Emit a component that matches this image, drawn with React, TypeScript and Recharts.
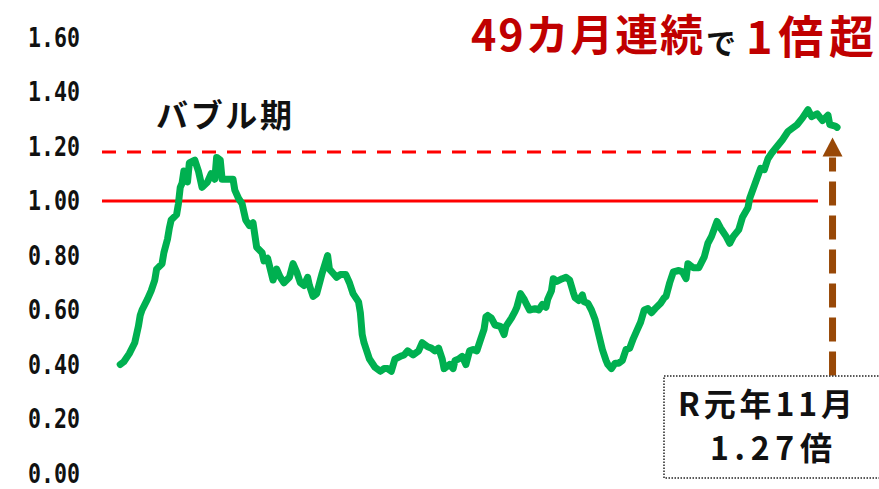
import { LineChart, Line, XAxis, YAxis, ReferenceLine, ReferenceDot } from 'recharts';

// months since the first point (Jan 1987 ... Nov 2019)
const monthIndex = [
  0, 2, 5, 8, 10, 11, 12, 15, 17, 19, 20, 23, 24, 26, 27, 28, 31, 32, 33, 34, 35, 37, 38, 41, 43, 45, 48, 50, 52, 53,
  55, 56, 58, 62, 63, 65, 67, 68, 69, 71, 73, 75, 78, 79, 81, 84, 86, 88, 90, 93, 95, 97, 99, 101, 103, 104, 106, 108,
  110, 111, 114, 115, 117, 119, 121, 124, 126, 128, 131, 132, 133, 134, 137, 140, 143, 145, 147, 149, 151, 154, 156,
  158, 161, 164, 166, 169, 171, 173, 175, 177, 178, 181, 183, 184, 186, 188, 190, 192, 194, 196, 198, 200, 201, 202,
  204, 206, 209, 211, 212, 215, 217, 218, 220, 222, 223, 225, 228, 230, 232, 234, 235, 237, 238, 240, 243, 245, 247,
  249, 250, 252, 254, 255, 257, 259, 261, 263, 265, 267, 268, 270, 272, 274, 276, 278, 280, 282, 284, 286, 288, 290,
  292, 294, 297, 299, 300, 302, 304, 307, 309, 311, 312, 315, 318, 321, 323, 325, 328, 330, 333, 335, 337, 340, 342,
  345, 346, 349, 352, 354, 356, 358, 361, 364, 367, 369, 372, 375, 378, 380, 383, 386, 389, 390, 393, 394,
];

const ratio = [
  0.40, 0.41, 0.44, 0.48, 0.54, 0.58, 0.60, 0.64, 0.67, 0.71, 0.75, 0.77, 0.81, 0.86, 0.90, 0.93, 0.95, 0.99, 1.05, 1.065,
  1.11, 1.07, 1.14, 1.15, 1.11, 1.05, 1.07, 1.10, 1.08, 1.16, 1.15, 1.08, 1.08, 1.08, 1.04, 1.01, 0.99, 0.96, 0.93, 0.91,
  0.92, 0.83, 0.81, 0.78, 0.79, 0.71, 0.75, 0.72, 0.70, 0.72, 0.77, 0.74, 0.70, 0.69, 0.72, 0.69, 0.65, 0.66, 0.71, 0.735,
  0.80, 0.75, 0.735, 0.72, 0.73, 0.73, 0.70, 0.66, 0.63, 0.59, 0.51, 0.48, 0.42, 0.39, 0.375, 0.385, 0.385, 0.375, 0.42,
  0.43, 0.435, 0.45, 0.435, 0.45, 0.48, 0.465, 0.46, 0.45, 0.46, 0.42, 0.385, 0.40, 0.385, 0.415, 0.42, 0.43, 0.40, 0.45,
  0.455, 0.45, 0.49, 0.53, 0.575, 0.58, 0.57, 0.545, 0.54, 0.51, 0.54, 0.57, 0.595, 0.61, 0.66, 0.64, 0.625, 0.60, 0.605,
  0.60, 0.62, 0.61, 0.64, 0.67, 0.715, 0.705, 0.715, 0.72, 0.71, 0.665, 0.645, 0.635, 0.655, 0.63, 0.625, 0.60, 0.565,
  0.51, 0.455, 0.415, 0.40, 0.385, 0.405, 0.405, 0.415, 0.455, 0.46, 0.495, 0.525, 0.555, 0.60, 0.605, 0.59, 0.605,
  0.625, 0.645, 0.65, 0.70, 0.74, 0.745, 0.74, 0.715, 0.77, 0.755, 0.755, 0.795, 0.845, 0.87, 0.925, 0.90, 0.87, 0.845,
  0.87, 0.895, 0.94, 0.975, 1.01, 1.065, 1.12, 1.115, 1.155, 1.175, 1.20, 1.225, 1.255, 1.265, 1.28, 1.305, 1.335, 1.31,
  1.32, 1.295, 1.315, 1.28, 1.275, 1.27,
];

const yTicks = [0, 0.2, 0.4, 0.6, 0.8, 1.0, 1.2, 1.4, 1.6];

const ONE_LEVEL = 1.0;
const BUBBLE_LEVEL = 1.18;
const LINE_END = 383.5;
const ARROW_X = 391.5;

const data = monthIndex.map((t, i) => ({ t, v: ratio[i] }));

const BROWN = '#984807';
const RED = '#FF0000';
const JP = '"Noto Sans CJK JP", "Noto Sans", sans-serif';

function YTick(props: any) {
  const { y, payload } = props;
  return (
    <text
      x={80}
      y={y}
      dy={9}
      textAnchor="end"
      textLength={52}
      lengthAdjust="spacingAndGlyphs"
      fontFamily='"DejaVu Sans Mono", monospace'
      fontWeight="bold"
      fontSize={26}
      fill="#111"
    >
      {Number(payload.value).toFixed(2)}
    </text>
  );
}

export default function App() {
  return (
    <div
      style={{
        position: 'fixed',
        top: 0,
        left: 0,
        width: 879,
        height: 489,
        overflow: 'hidden',
        background: '#fff',
      }}
    >
      <LineChart width={879} height={489} data={data} margin={{ top: 37.5, right: 31, bottom: 15.5, left: 0 }}>
        <XAxis dataKey="t" type="number" domain={[-10, 400]} hide />
        <YAxis
          domain={[0, 1.6]}
          ticks={yTicks}
          width={102}
          axisLine={false}
          tickLine={false}
          tick={<YTick />}
          interval={0}
        />
        <ReferenceLine
          segment={[
            { x: -10, y: ONE_LEVEL },
            { x: LINE_END, y: ONE_LEVEL },
          ]}
          stroke={RED}
          strokeWidth={3}
        />
        <ReferenceLine
          segment={[
            { x: -10, y: BUBBLE_LEVEL },
            { x: LINE_END, y: BUBBLE_LEVEL },
          ]}
          stroke={RED}
          strokeWidth={3}
          strokeDasharray="14 11"
        />
        <Line
          dataKey="v"
          type="linear"
          stroke="#00B050"
          strokeWidth={7}
          strokeLinejoin="round"
          strokeLinecap="round"
          dot={false}
          isAnimationActive={false}
        />
        <ReferenceLine
          segment={[
            { x: ARROW_X, y: 0.36 },
            { x: ARROW_X, y: 1.16 },
          ]}
          stroke={BROWN}
          strokeWidth={7}
          strokeDasharray="24 10"
        />
        <ReferenceDot
          x={ARROW_X}
          y={1.196}
          r={10}
          shape={(p: any) => (
            <polygon
              points={`${p.cx},${p.cy - 10} ${p.cx - 10},${p.cy + 9} ${p.cx + 10},${p.cy + 9}`}
              fill={BROWN}
            />
          )}
        />
      </LineChart>

      <svg width={879} height={489} style={{ position: 'absolute', top: 0, left: 0, pointerEvents: 'none' }}>
        <text x={471} y={51} fontFamily={JP} fontWeight="bold" fontSize={43} fill="#C00000" textLength={232} lengthAdjust="spacing">
          49カ月連続
        </text>
        <text x={706} y={54} fontFamily={JP} fontWeight="bold" fontSize={30} fill="#111">
          で
        </text>
        <text x={746} y={54} fontFamily={JP} fontWeight="bold" fontSize={45} fill="#C00000" textLength={128} lengthAdjust="spacing">
          1倍超
        </text>

        <text x={156} y={127} fontFamily={JP} fontWeight="bold" fontSize={32} fill="#111" textLength={136} lengthAdjust="spacing">
          バブル期
        </text>

        <rect x={664} y={376} width={240} height={102} fill="#fff" stroke="#222" strokeWidth={1.5} strokeDasharray="1.5 1.5" />
        <text x={678} y={416} fontFamily={JP} fontWeight="bold" fontSize={32} fill="#111" textLength={175} lengthAdjust="spacing">
          R元年11月
        </text>
        <text x={710} y={460} fontFamily={JP} fontWeight="bold" fontSize={32} fill="#111" textLength={122} lengthAdjust="spacing">
          1.27倍
        </text>
      </svg>
    </div>
  );
}
